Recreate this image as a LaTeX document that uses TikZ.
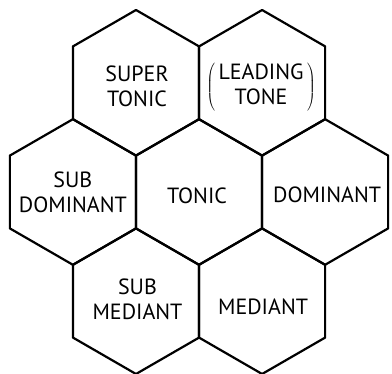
\documentclass[tikz,border=0pt]{standalone}
\usepackage{fontspec}
\setmainfont{PT Sans}
\usetikzlibrary{shapes.geometric}
\begin{document}
\begin{tikzpicture}[x=1pt,y=1pt,line width=2.2pt,line join=round,font=\fontsize{22}{25}\selectfont,
  hex/.style={draw,regular polygon,regular polygon sides=6,shape border rotate=30,minimum size=145.6pt,inner sep=0pt,outer sep=0pt},
  tag/.style={align=center,inner sep=0pt}]
\useasboundingbox (0,0) rectangle (392,374);
\node[hex] (st) at (136,291.2) {};\node[hex] (lt) at (262.1,291.2) {};
\node[hex] (sd) at (72.9,182) {};\node[hex] (t) at (199,182) {};\node[hex] (d) at (325.1,182) {};
\node[hex] (sm) at (136,72.8) {};\node[hex] (m) at (262.1,72.8) {};
\node[tag] (supertonic) at ([shift={(1,-4)}]st.center) {SUPER\\TONIC};
\node[tag] (leading) at ([shift={(-1,-4)}]lt.center) {$\left(\,\begin{tabular}{@{}c@{}}LEADING\\TONE\end{tabular}\,\right)$};
\node[tag] (subdominant) at (sd.center) {SUB\\DOMINANT};
\node[tag] (tonic) at ([shift={(-2,-4)}]t.center) {TONIC};
\node[tag] (dominant) at ([shift={(2,-3)}]d.center) {DOMINANT};
\node[tag] (submediant) at ([shift={(1.5,2)}]sm.center) {SUB\\MEDIANT};
\node[tag] (mediant) at ([shift={(1,-5.5)}]m.center) {MEDIANT};
\end{tikzpicture}
\end{document}
